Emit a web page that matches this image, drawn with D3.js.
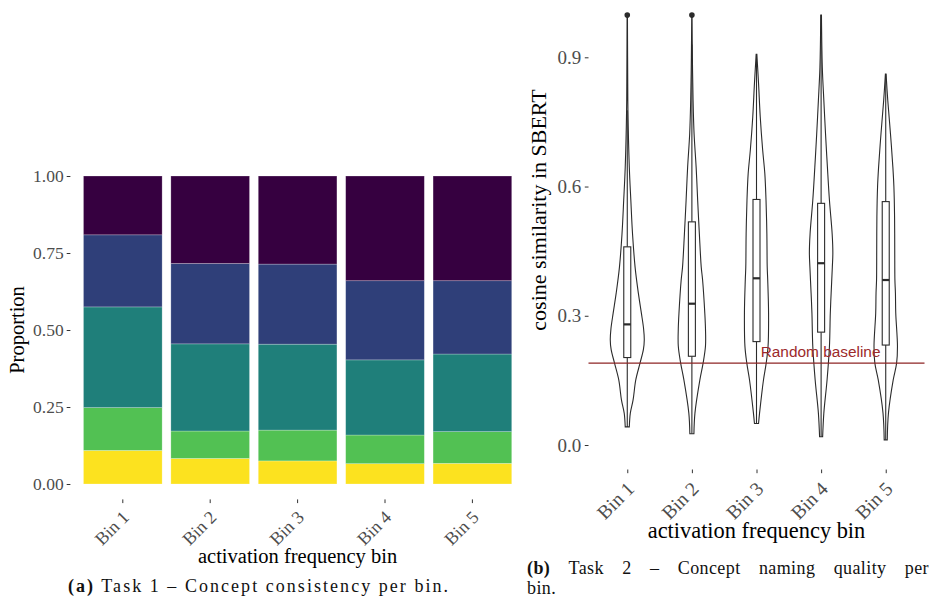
<!DOCTYPE html>
<html>
<head>
<meta charset="utf-8">
<script src="https://cdn.jsdelivr.net/npm/d3@7"></script>
<style>
body { margin: 0; background: #fff; }
svg { display: block; }
</style>
</head>
<body>
<svg id="chart" width="934" height="599"></svg>
<script>
// ---- data (a): stacked proportions, bottom segment first
var bins = ["Bin 1", "Bin 2", "Bin 3", "Bin 4", "Bin 5"];
var stackKeys = ["s1", "s2", "s3", "s4", "s5"];
var s1 = [0.109, 0.083, 0.075, 0.066, 0.067];
var s2 = [0.139, 0.089, 0.100, 0.093, 0.103];
var s3 = [0.327, 0.283, 0.279, 0.244, 0.252];
var s4 = [0.234, 0.261, 0.260, 0.257, 0.238];
var s5 = [0.191, 0.284, 0.286, 0.340, 0.340];
var stackColors = ["#fce21f", "#52c153", "#1f7f7a", "#2f3f79", "#360040"];
var propTicks = [0, 0.25, 0.5, 0.75, 1];

// ---- data (b): violin densities [value, relative density] and box stats
var dens1 = [[0.042,0.12],[0.074,0.18],[0.104,0.34],[0.151,0.5],[0.19,0.75],[0.222,0.95],[0.244,1.0],[0.27,0.96],[0.306,0.83],[0.353,0.65],[0.413,0.46],[0.49,0.31],[0.568,0.21],[0.645,0.12],[0.777,0.04],[0.9,0.02],[0.998,0.01]];
var dens2 = [[0.026,0.12],[0.074,0.18],[0.151,0.47],[0.19,0.66],[0.23,0.8],[0.27,0.8],[0.306,0.76],[0.383,0.63],[0.413,0.55],[0.49,0.44],[0.568,0.34],[0.645,0.25],[0.722,0.13],[0.8,0.07],[0.9,0.03],[0.998,0.01]];
var dens3 = [[0.05,0.12],[0.074,0.18],[0.151,0.41],[0.19,0.57],[0.229,0.68],[0.306,0.71],[0.383,0.66],[0.413,0.63],[0.49,0.61],[0.568,0.56],[0.63,0.49],[0.686,0.36],[0.762,0.22],[0.84,0.12],[0.907,0.02]];
var dens4 = [[0.019,0.09],[0.074,0.16],[0.151,0.35],[0.229,0.49],[0.306,0.54],[0.353,0.59],[0.413,0.66],[0.446,0.69],[0.49,0.65],[0.568,0.49],[0.645,0.37],[0.722,0.26],[0.8,0.16],[0.877,0.07],[0.998,0.02]];
var dens5 = [[0.012,0.09],[0.074,0.16],[0.151,0.44],[0.19,0.64],[0.229,0.69],[0.306,0.59],[0.353,0.57],[0.383,0.54],[0.452,0.53],[0.53,0.52],[0.6,0.48],[0.645,0.42],[0.722,0.28],[0.8,0.12],[0.861,0.02]];
var densities = [dens1, dens2, dens3, dens4, dens5];
var whiskerLow  = [0.042, 0.026, 0.050, 0.019, 0.012];
var q1          = [0.203, 0.206, 0.240, 0.262, 0.232];
var medians     = [0.280, 0.328, 0.387, 0.422, 0.383];
var q3          = [0.460, 0.518, 0.570, 0.561, 0.565];
var whiskerHigh = [0.777, 0.930, 0.907, 0.998, 0.861];
var outliers    = [[0.998], [0.998], [], [], []];
var baseline = 0.19;
var simTicks = [0, 0.3, 0.6, 0.9];

var svg = d3.select("#chart");
var serif = "'Liberation Serif', 'Times New Roman', serif";

// ================= panel (a) =================
var xA = d3.scaleBand().domain(bins).range([79.1, 516.1]).paddingInner(0.1).paddingOuter(0.05);
var yA = d3.scaleLinear().domain([0, 1]).range([484, 176]);

var rowsA = bins.map(function(b, i) {
    return {bin: b, s1: s1[i], s2: s2[i], s3: s3[i], s4: s4[i], s5: s5[i]};
});
var stacked = d3.stack().keys(stackKeys)(rowsA);

svg.append("g").selectAll("g").data(stacked).enter().append("g")
    .attr("fill", function(d, i) { return stackColors[i]; })
    .selectAll("rect").data(function(d) { return d; }).enter().append("rect")
    .attr("x", function(d) { return xA(d.data.bin); })
    .attr("width", xA.bandwidth())
    .attr("y", function(d) { return yA(d[1]); })
    .attr("height", function(d) { return yA(d[0]) - yA(d[1]); })
    .attr("stroke", "#ffffff")
    .attr("stroke-opacity", 0.35)
    .attr("stroke-width", 0.7);

var yAxisA = svg.append("g").attr("transform", "translate(70.4,0)")
    .call(d3.axisLeft(yA).tickValues(propTicks).tickFormat(d3.format(".2f")).tickSize(3.7).tickPadding(3));
var xAxisA = svg.append("g").attr("transform", "translate(0,499.4)")
    .call(d3.axisBottom(xA).tickSize(3.7).tickFormat(""));

// ================= panel (b) =================
var xB = d3.scalePoint().domain(bins).range([588.5, 924.5]).padding(0.6);
var yB = d3.scaleLinear().domain([0, 0.9]).range([445, 57.3]);
var wB = d3.scaleLinear().domain([0, 1]).range([0, 17]);

var violin = svg.append("g");
densities.forEach(function(dens, i) {
    var cx = xB(bins[i]);
    var area = d3.area()
        .curve(d3.curveCatmullRom)
        .y(function(d) { return yB(d[0]); })
        .x0(function(d) { return cx - wB(d[1]); })
        .x1(function(d) { return cx + wB(d[1]); });
    violin.append("path")
        .attr("d", area(dens))
        .attr("fill", "#ffffff")
        .attr("stroke", "#2b2b2b")
        .attr("stroke-width", 1.1);
});

var boxes = svg.append("g").attr("stroke", "#2b2b2b");
bins.forEach(function(b, i) {
    var cx = xB(b);
    var hw = 3.5;
    boxes.append("line")
        .attr("x1", cx).attr("x2", cx)
        .attr("y1", yB(whiskerHigh[i])).attr("y2", yB(q3[i]))
        .attr("stroke-width", 1.1);
    boxes.append("line")
        .attr("x1", cx).attr("x2", cx)
        .attr("y1", yB(q1[i])).attr("y2", yB(whiskerLow[i]))
        .attr("stroke-width", 1.1);
    boxes.append("rect")
        .attr("x", cx - hw).attr("width", hw * 2)
        .attr("y", yB(q3[i])).attr("height", yB(q1[i]) - yB(q3[i]))
        .attr("fill", "#ffffff")
        .attr("stroke-width", 1.1);
    boxes.append("line")
        .attr("x1", cx - hw).attr("x2", cx + hw)
        .attr("y1", yB(medians[i])).attr("y2", yB(medians[i]))
        .attr("stroke-width", 2.2);
    outliers[i].forEach(function(v) {
        boxes.append("circle")
            .attr("cx", cx).attr("cy", yB(v)).attr("r", 2.8)
            .attr("fill", "#2b2b2b").attr("stroke", "none");
    });
});

svg.append("line")
    .attr("x1", 588.5).attr("x2", 924.5)
    .attr("y1", yB(baseline)).attr("y2", yB(baseline))
    .attr("stroke", "#8e2424").attr("stroke-width", 1.3);
svg.append("text")
    .attr("x", 760.7).attr("y", yB(baseline) - 6.5)
    .attr("font-family", "'Liberation Sans', Arial, sans-serif")
    .attr("font-size", 15.4)
    .attr("fill", "#9c2a2b")
    .text("Random baseline");

var yAxisB = svg.append("g").attr("transform", "translate(588.5,0)")
    .call(d3.axisLeft(yB).tickValues(simTicks).tickFormat(d3.format(".1f")).tickSize(3.7).tickPadding(3.5));
var xAxisB = svg.append("g").attr("transform", "translate(0,469.5)")
    .call(d3.axisBottom(xB).tickSize(3.7).tickFormat(""));

// ---- axis styling (ggplot-like, no axis lines)
[yAxisA, xAxisA, yAxisB, xAxisB].forEach(function(ax) {
    ax.attr("font-family", serif);
    ax.select(".domain").remove();
    ax.selectAll(".tick line").attr("stroke", "#333333").attr("stroke-width", 1);
    ax.selectAll(".tick text").attr("fill", "#4d4d4d").attr("font-family", serif);
});
yAxisA.selectAll(".tick text").attr("font-size", 17.5);
yAxisB.selectAll(".tick text").attr("font-size", 19);

function rotatedLabels(scale, y, dx, size) {
    var g = svg.append("g");
    bins.forEach(function(b) {
        var cx = scale(b) + (scale.bandwidth ? scale.bandwidth() / 2 : 0);
        g.append("text")
            .attr("transform", "translate(" + (cx + dx) + "," + y + ") rotate(-45)")
            .attr("text-anchor", "end")
            .attr("dy", "0.66em")
            .attr("font-family", serif)
            .attr("font-size", size)
            .attr("fill", "#4d4d4d")
            .text(b);
    });
}
rotatedLabels(xA, 510, -1, 18);
rotatedLabels(xB, 481, -1, 19.5);

// ---- titles
svg.append("text")
    .attr("transform", "translate(23.5,330) rotate(-90)")
    .attr("text-anchor", "middle")
    .attr("font-family", serif).attr("font-size", 20.5)
    .text("Proportion");
svg.append("text")
    .attr("x", 297.6).attr("y", 563)
    .attr("text-anchor", "middle")
    .attr("font-family", serif).attr("font-size", 20.5)
    .text("activation frequency bin");
svg.append("text")
    .attr("transform", "translate(546,210) rotate(-90)")
    .attr("text-anchor", "middle")
    .attr("font-family", serif).attr("font-size", 22)
    .text("cosine similarity in SBERT");
svg.append("text")
    .attr("x", 756.5).attr("y", 538)
    .attr("text-anchor", "middle")
    .attr("font-family", serif).attr("font-size", 22.4)
    .text("activation frequency bin");

// ---- captions
var capA = svg.append("text")
    .attr("x", 68).attr("y", 592)
    .attr("font-family", serif).attr("font-size", 18)
    .attr("fill", "#111");
capA.append("tspan").attr("font-weight", "bold").text("(a)");
capA.append("tspan").text(" Task 1 \u2013 Concept consistency per bin.");
capA.attr("textLength", 380).attr("lengthAdjust", "spacing");

// justified first line of caption (b)
var capWords = ["(b)", "Task", "2", "\u2013", "Concept", "naming", "quality", "per"];
var capB = svg.append("g").attr("font-family", serif).attr("font-size", 18).attr("fill", "#111");
var nodes = capWords.map(function(w, i) {
    return capB.append("text").attr("y", 574)
        .attr("font-weight", i === 0 ? "bold" : null)
        .attr("letter-spacing", 0.4)
        .text(w);
});
var widths = nodes.map(function(n) { return n.node().getComputedTextLength(); });
var gap = (929 - 527 - d3.sum(widths)) / (capWords.length - 1);
var cursor = 527;
nodes.forEach(function(n, i) {
    n.attr("x", cursor);
    cursor += widths[i] + gap;
});
capB.append("text").attr("x", 527).attr("y", 594).attr("letter-spacing", 0.4).text("bin.");
</script>
</body>
</html>
